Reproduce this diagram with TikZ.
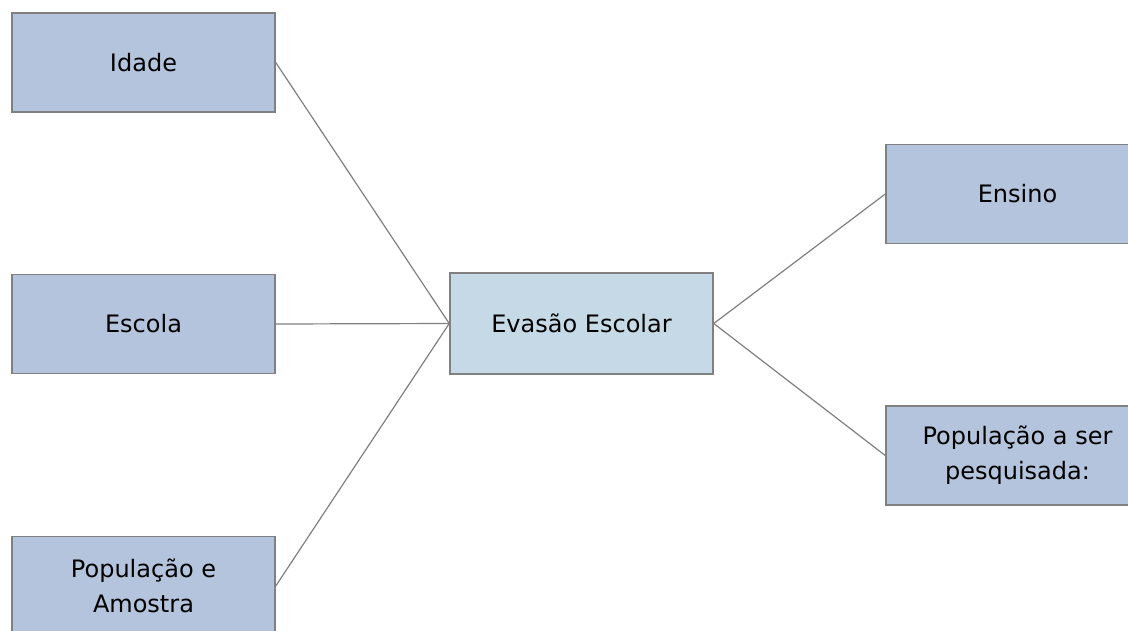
\documentclass[tikz,border=0pt]{standalone}
\usepackage{fontspec}
\setmainfont{DejaVu Sans}
\definecolor{boxfill}{HTML}{B4C4DC}
\definecolor{centerfill}{HTML}{C6D9E6}
\definecolor{edgegray}{HTML}{808080}
\begin{document}
\begin{tikzpicture}[x=1pt,y=-1pt,
  topic/.style={draw=edgegray, line width=1.5pt, fill=boxfill, minimum width=263pt, minimum height=99pt,
    inner sep=0pt, align=center, font=\fontsize{24}{35}\selectfont},
  hub/.style={topic, fill=centerfill, minimum height=101pt},
  link/.style={draw=edgegray, line width=1.2pt}]
\useasboundingbox (0,0) rectangle (1128,630);
\clip (0,0) rectangle (1128,630);
\fill[white] (0,0) rectangle (1128,630);
\node[topic] (idade) at (143.5,62.5) {Idade};
\node[topic] (escola) at (143.5,324) {Escola};
\node[topic] (pop) at (143.5,586) {População e\\Amostra};
\node[hub] (ev) at (581.5,323.5) {Evasão Escolar};
\node[topic] (ensino) at (1017.5,194) {Ensino};
\node[topic] (popser) at (1017.5,455.5) {População a ser\\pesquisada:};
\draw[link] (idade.east) -- (ev.west);
\draw[link] (escola.east) -- (ev.west);
\draw[link] (pop.east) -- (ev.west);
\draw[link] (ev.east) -- (ensino.west);
\draw[link] (ev.east) -- (popser.west);
\end{tikzpicture}
\end{document}
